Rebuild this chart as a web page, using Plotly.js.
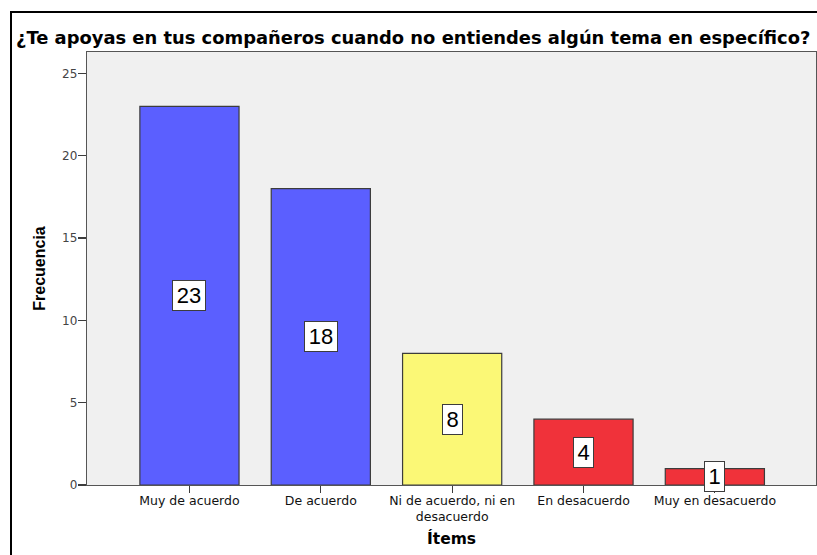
<!DOCTYPE html>
<html>
<head>
<meta charset="utf-8">
<script src="https://cdn.plot.ly/plotly-3.0.1.min.js"></script>
<style>
html,body{margin:0;padding:0;background:#fff;}
#chart{width:817px;height:555px;position:absolute;left:0;top:0;}
#frame{position:absolute;left:10px;top:11px;width:900px;height:700px;border-left:2px solid #000;border-top:2px solid #000;pointer-events:none;}
</style>
</head>
<body>
<div id="chart"></div>
<div id="frame"></div>
<script>
const categories = ["Muy de acuerdo", "De acuerdo", "Ni de acuerdo, ni en<br>desacuerdo", "En desacuerdo", "Muy en desacuerdo"];
const frecuencias = [23, 18, 8, 4, 1];
const barColors = ["#5b5fff", "#5b5fff", "#fbf876", "#f0323a", "#f0323a"];
const yTicks = [0, 5, 10, 15, 20, 25];

const positions = categories.map((c, i) => i);
const FONT = "DejaVu Sans, Verdana, sans-serif";
const ARIAL = "Liberation Sans, Arial, sans-serif";

const trace = {
  type: "bar",
  x: positions,
  y: frecuencias,
  width: 0.755,
  marker: {color: barColors, line: {color: "#3c3c3c", width: 1.2}},
  hoverinfo: "skip"
};

const annotations = frecuencias.map((v, i) => ({
  x: positions[i], y: v / 2, xref: "x", yref: "y",
  text: String(v), showarrow: false,
  width: String(v).length * 13 + 2,
  font: {family: ARIAL, size: 22, color: "#000"},
  bgcolor: "#ffffff", bordercolor: "#3c3c3c", borderwidth: 1, borderpad: 2
}));

const layout = {
  width: 817, height: 555,
  margin: {l: 87, r: 1, t: 52, b: 70},
  paper_bgcolor: "#ffffff",
  plot_bgcolor: "#f0f0f0",
  showlegend: false,
  title: {
    text: "<b>¿Te apoyas en tus compañeros cuando no entiendes algún tema en específico?</b>",
    font: {family: FONT, size: 17.9, color: "#000"},
    xref: "container", yref: "container", x: 16/817, xanchor: "left", y: 1 - 38/555, yanchor: "middle"
  },
  xaxis: {
    range: [-0.78, 4.77],
    tickmode: "array", tickvals: positions, ticktext: categories,
    ticks: "outside", ticklen: 7, tickcolor: "#3c3c3c", tickwidth: 1.2,
    ticklabelstandoff: -3,
    showline: true, linecolor: "#555", linewidth: 1.2, mirror: true,
    showgrid: false, zeroline: false,
    tickfont: {family: FONT, size: 12.5, color: "#111"},
    title: {text: "<b>Ítems</b>", font: {family: FONT, size: 15.5, color: "#000"}, standoff: 9},
    fixedrange: true
  },
  yaxis: {
    range: [0, 26.3],
    tickmode: "array", tickvals: yTicks,
    ticks: "outside", ticklen: 8, tickcolor: "#3c3c3c", tickwidth: 1.2,
    ticklabelstandoff: -2,
    showline: true, linecolor: "#555", linewidth: 1.2, mirror: true,
    showgrid: false, zeroline: false,
    tickfont: {family: FONT, size: 12, color: "#444"},
    title: {text: "<b>Frecuencia</b>", font: {family: ARIAL, size: 16, color: "#000"}, standoff: 12},
    fixedrange: true
  },
  annotations: annotations
};

Plotly.newPlot("chart", [trace], layout, {displayModeBar: false, staticPlot: true});
</script>
</body>
</html>
